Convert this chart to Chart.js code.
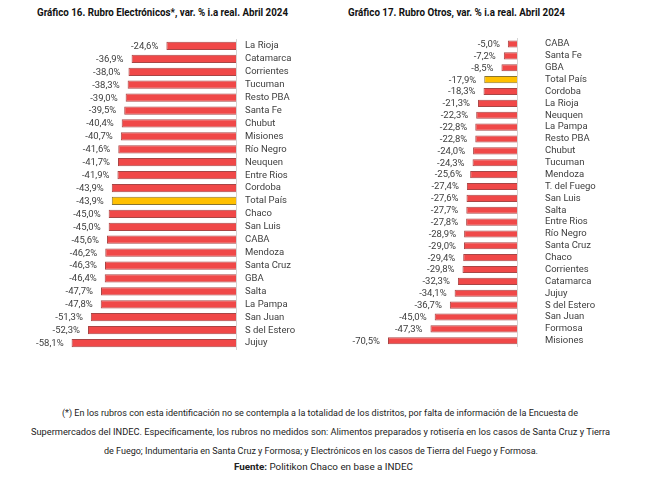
<!DOCTYPE html>
<html>
<head>
<meta charset="utf-8">
<script src="https://cdn.jsdelivr.net/npm/chart.js@4.4.0/dist/chart.umd.min.js"></script>
<style>
  body { margin: 0; background: #fff; width: 646px; height: 498px; position: relative; overflow: hidden;
         font-family: Roboto, "Liberation Sans", Arial, sans-serif; color: #262626; }
  .title { position: absolute; top: 6px; font-weight: bold; font-size: 10.5px; color: #111; white-space: nowrap; transform-origin: 0 0; }
  canvas { position: absolute; top: 0; }
  .foot { position: absolute; font-size: 9px; color: #222; white-space: nowrap; transform-origin: 0 0; }
</style>
</head>
<body>
<div class="title" data-x="37" data-w="251">Gráfico 16. Rubro Electrónicos*, var. % i.a real. Abril 2024</div>
<div class="title" data-x="348" data-w="217">Gráfico 17. Rubro Otros, var. % i.a real. Abril 2024</div>
<canvas id="c1" width="330" height="360" style="left:0"></canvas>
<canvas id="c2" width="316" height="360" style="left:330px"></canvas>
<div class="foot" data-x="62" data-w="516" style="top:408px">(*) En los rubros con esta identificación no se contempla a la totalidad de los distritos, por falta de información de la Encuesta de</div>
<div class="foot" data-x="31" data-w="579" style="top:427px">Supermercados del INDEC. Específicamente, los rubros no medidos son: Alimentos preparados y rotisería en los casos de Santa Cruz y Tierra</div>
<div class="foot" data-x="104" data-w="434" style="top:446px">de Fuego; Indumentaria en Santa Cruz y Formosa; y Electrónicos en los casos de Tierra del Fuego y Formosa.</div>
<div class="foot" data-x="234" data-w="179" style="top:462px"><b>Fuente:</b> Politikon Chaco en base a INDEC</div>
<script>
// Gráfico 16 - Electrónicos
var provElec = ['La Rioja','Catamarca','Corrientes','Tucuman','Resto PBA','Santa Fe','Chubut','Misiones',
  'Río Negro','Neuquen','Entre Rios','Cordoba','Total País','Chaco','San Luis','CABA','Mendoza',
  'Santa Cruz','GBA','Salta','La Pampa','San Juan','S del Estero','Jujuy'];
var valElec = [-24.6,-36.9,-38.0,-38.3,-39.0,-39.5,-40.4,-40.7,-41.6,-41.7,-41.9,-43.9,-43.9,-45.0,-45.0,
  -45.6,-46.2,-46.3,-46.4,-47.7,-47.8,-51.3,-52.3,-58.1];

// Gráfico 17 - Otros
var provOtros = ['CABA','Santa Fe','GBA','Total País','Cordoba','La Rioja','Neuquen','La Pampa','Resto PBA',
  'Chubut','Tucuman','Mendoza','T. del Fuego','San Luis','Salta','Entre Rios','Río Negro','Santa Cruz',
  'Chaco','Corrientes','Catamarca','Jujuy','S del Estero','San Juan','Formosa','Misiones'];
var valOtros = [-5.0,-7.2,-8.5,-17.9,-18.3,-21.3,-22.3,-22.8,-22.8,-24.0,-24.3,-25.6,-27.4,-27.6,-27.7,
  -27.8,-28.9,-29.0,-29.4,-29.8,-32.3,-34.1,-36.7,-45.0,-47.3,-70.5];

var FONT = 'Roboto, "Liberation Sans", Arial, sans-serif';

// squeeze the condensed-looking texts to the widths seen in the picture
document.querySelectorAll('.title, .foot').forEach(function(el) {
  var w = el.getBoundingClientRect().width;
  el.style.left = el.dataset.x + 'px';
  el.style.transform = 'scaleX(' + (el.dataset.w / w) + ')';
});

var valueLabels = {
  id: 'valueLabels',
  afterDatasetsDraw: function(chart) {
    var ctx = chart.ctx;
    var meta = chart.getDatasetMeta(0);
    var data = chart.data.datasets[0].data;
    ctx.save();
    ctx.font = '9.5px ' + FONT;
    ctx.fillStyle = '#404040';
    ctx.textAlign = 'right';
    ctx.textBaseline = 'middle';
    meta.data.forEach(function(bar, i) {
      var txt = data[i].toFixed(1).replace('.', ',') + '%';
      ctx.fillText(txt, bar.x - 8, bar.y + 0.5);
    });
    ctx.restore();
  }
};

function makeChart(id, labels, values, opt) {
  var fills = labels.map(function(l) { return l === 'Total País' ? '#FFC000' : '#F04848'; });
  var borders = labels.map(function(l) { return l === 'Total País' ? '#8A7530' : '#A84545'; });
  return new Chart(document.getElementById(id), {
    type: 'bar',
    data: {
      labels: labels,
      datasets: [{
        data: values,
        backgroundColor: fills,
        borderColor: borders,
        borderWidth: 1,
        barPercentage: opt.bar,
        categoryPercentage: 1
      }]
    },
    options: {
      indexAxis: 'y',
      responsive: false,
      animation: false,
      devicePixelRatio: 1,
      layout: { padding: { top: opt.top, bottom: 360 - opt.bottom, left: 0, right: 0 } },
      plugins: { legend: { display: false }, tooltip: { enabled: false } },
      scales: {
        x: { display: false, min: opt.min, max: 0 },
        y: {
          position: 'right',
          grid: { display: false, drawTicks: false },
          border: { display: true, color: '#d4d4d4', width: 1 },
          ticks: { color: '#404040', padding: opt.pad, crossAlign: 'near', autoSkip: false,
                   font: { family: FONT, size: 9.5 } },
          afterFit: function(s) {
            s.width = opt.axisW;
            // tick padding is only meant horizontally here
            s.paddingTop = 0;
            s.paddingBottom = 0;
          }
        }
      }
    },
    plugins: [valueLabels]
  });
}

makeChart('c1', provElec, valElec, { min: -83.4, axisW: 94, pad: 9, top: 39.5, bottom: 349.5, bar: 0.64 });
makeChart('c2', provOtros, valOtros, { min: -102.2, axisW: 129, pad: 28, top: 38.1, bottom: 346.7, bar: 0.6 });
</script>
</body>
</html>
